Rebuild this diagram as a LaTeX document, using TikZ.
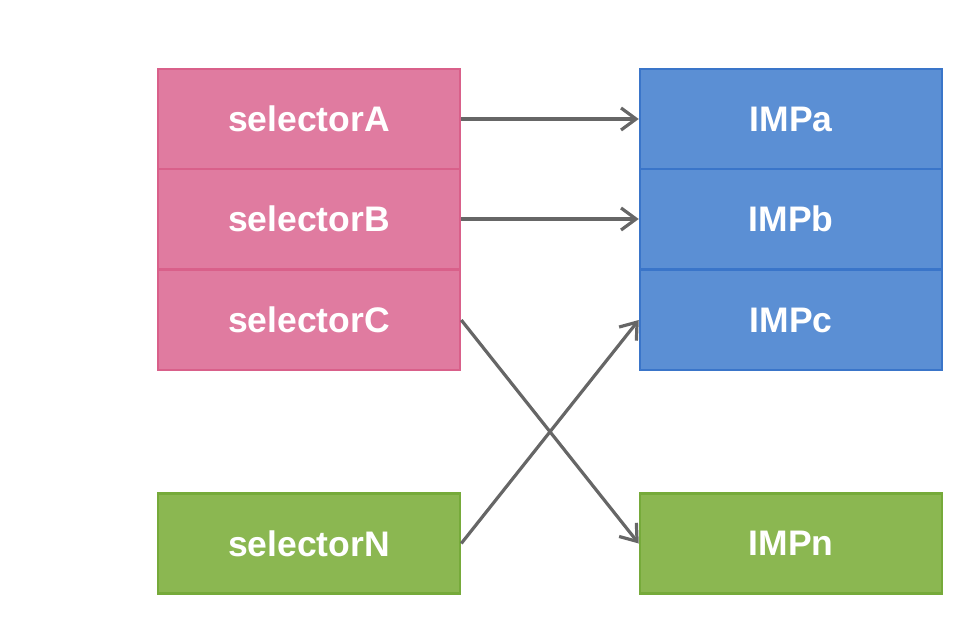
\documentclass[tikz,border=0pt]{standalone}
\usepackage{fontspec}
\setmainfont{Liberation Sans}
\usetikzlibrary{arrows.meta}
\definecolor{pinkfill}{HTML}{E07BA0}
\definecolor{pinkline}{HTML}{D9608A}
\definecolor{bluefill}{HTML}{5B8FD4}
\definecolor{blueline}{HTML}{3A75C9}
\definecolor{greenfill}{HTML}{8BB751}
\definecolor{greenline}{HTML}{76AA3A}
\definecolor{arrowgray}{HTML}{666666}
\begin{document}
\begin{tikzpicture}[x=1pt,y=1pt,
  box/.style={draw, line width=2.5pt, minimum width=302pt, minimum height=100pt, inner sep=0pt,
    text=white, font=\fontsize{35.5}{38}\selectfont\bfseries},
  pinkbox/.style={box, fill=pinkfill, draw=pinkline},
  bluebox/.style={box, fill=bluefill, draw=blueline},
  greenbox/.style={box, fill=greenfill, draw=greenline},
  conn/.style={draw=arrowgray, line width=3.2pt, -{Straight Barb[length=15pt,width=22pt,line width=3.2pt]}}]
\useasboundingbox (0,0) rectangle (960,640);
\node[pinkbox] (sA) at (309,521) {selectorA};
\node[pinkbox] (sB) at (309,421) {selectorB};
\node[pinkbox] (sC) at (309,320) {selectorC};
\node[greenbox] (sN) at (309,96.5) {selectorN};
\node[bluebox] (ia) at (791,521) {IMPa};
\node[bluebox] (ib) at (791,421) {IMPb};
\node[bluebox] (ic) at (791,320) {IMPc};
\node[greenbox] (in) at (791,96.5) {IMPn};
\draw[conn] (sA.east) -- (ia.west);
\draw[conn] (sB.east) -- (ib.west);
\draw[conn] (sC.east) -- (in.west);
\draw[conn] (sN.east) -- (ic.west);
\end{tikzpicture}
\end{document}
